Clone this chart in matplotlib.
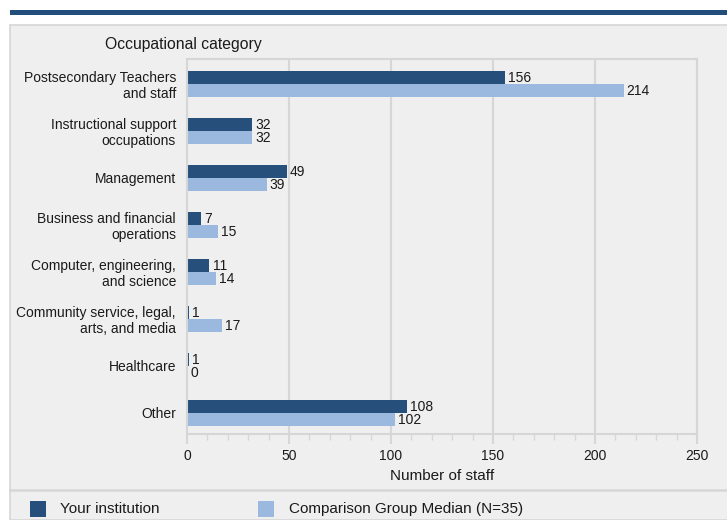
import matplotlib.pyplot as plt
from matplotlib.patches import Rectangle
from matplotlib.lines import Line2D
from matplotlib.ticker import MultipleLocator

plt.rcParams['font.family'] = ['Liberation Sans', 'DejaVu Sans']

categories = ['Postsecondary Teachers\nand staff', 'Instructional support\noccupations',
              'Management', 'Business and financial\noperations',
              'Computer, engineering,\nand science', 'Community service, legal,\narts, and media',
              'Healthcare', 'Other']
your_inst = [156, 32, 49, 7, 11, 1, 1, 108]
comparison = [214, 32, 39, 15, 14, 17, 0, 102]
series_labels = ['Your institution', 'Comparison Group Median (N=35)']

dark = '#264f7b'
light = '#9bb9de'
panel = '#efefef'
edge = '#d6d6d6'
W, H = 727, 520

fig = plt.figure(figsize=(7.27, 5.2), dpi=100)

def fx(px):
    return px / W

def fy(py):
    return 1 - py / H

# top band and grey panel (behind the axes)
fig.patches.append(Rectangle((fx(10), fy(15)), fx(717), 5 / H, transform=fig.transFigure,
                             facecolor='#234e7b', edgecolor='none', zorder=-10))
fig.patches.append(Rectangle((fx(10), 0), fx(730), fy(25), transform=fig.transFigure,
                             facecolor=panel, edgecolor=edge, linewidth=1.2, zorder=-10))
fig.lines.append(Line2D([fx(10), 1], [fy(490), fy(490)], transform=fig.transFigure,
                        color=edge, linewidth=1.8, zorder=-5))

ax = fig.add_axes([fx(187), fy(434), fx(697 - 187), (434 - 59) / H])
ax.set_facecolor(panel)

y = list(range(len(categories)))
h = 0.275
ax.barh([i - h / 2 for i in y], your_inst, height=h, color=dark)
ax.barh([i + h / 2 for i in y], comparison, height=h, color=light)

for i in y:
    ax.text(your_inst[i] + 1.5, i - h / 2 + 0.02, str(your_inst[i]), va='center', ha='left',
            fontsize=10, color='#1a1a1a')
    ax.text(comparison[i] + 1.5, i + h / 2 + 0.02, str(comparison[i]), va='center', ha='left',
            fontsize=10, color='#1a1a1a')

ax.set_xlim(0, 250)
ax.set_ylim(7.45, -0.53)
ax.set_yticks(y)
ax.set_yticklabels(categories, fontsize=10, color='#1a1a1a', linespacing=1.15)
ax.tick_params(axis='y', length=0, pad=8)
ax.xaxis.set_major_locator(MultipleLocator(50))
ax.xaxis.set_minor_locator(MultipleLocator(10))
ax.tick_params(axis='x', which='major', length=7, width=1.5, color=edge, labelsize=10,
               labelcolor='#1a1a1a', pad=4)
ax.tick_params(axis='x', which='minor', length=4, width=1, color=edge)
ax.grid(axis='x', which='major', color=edge, linewidth=1.5)
ax.set_axisbelow(True)
for s in ax.spines.values():
    s.set_color(edge)
    s.set_linewidth(1.5)
ax.set_xlabel('Number of staff', fontsize=11, color='#1a1a1a', labelpad=4)

fig.text(fx(105), fy(44), 'Occupational category', fontsize=11.3, color='#1a1a1a',
         va='center', ha='left')

# legend
for px, col, lab, tx in [(30, dark, series_labels[0], 60), (258, light, series_labels[1], 289)]:
    fig.patches.append(Rectangle((fx(px), fy(517)), fx(16), 16 / H, transform=fig.transFigure,
                                 facecolor=col, edgecolor='none'))
    fig.text(fx(tx), fy(509), lab, fontsize=11, color='#1a1a1a', va='center', ha='left')

fig.savefig('out.png', dpi=100)
